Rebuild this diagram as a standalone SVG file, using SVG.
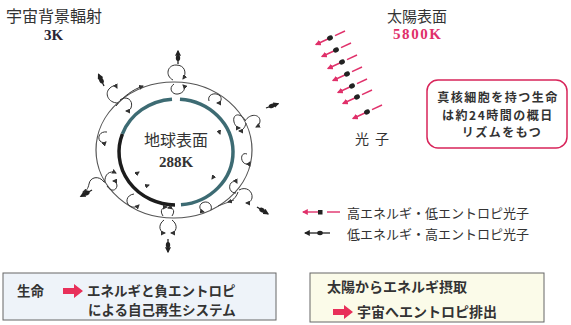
<svg xmlns="http://www.w3.org/2000/svg" width="571" height="325" viewBox="0 0 571 325">
  <style>
    .jp { font-family: "Noto Sans CJK JP", "Noto Sans CJK SC", sans-serif; fill: #333; }
    .jpb { font-family: "Noto Sans CJK JP", "Noto Sans CJK SC", sans-serif; font-weight: 700; fill: #333; }
    .num { font-family: "Liberation Serif", serif; font-weight: 700; }
    .curl { fill: none; stroke: #333; stroke-width: 1; marker-end: url(#ah); }
    .ring { fill: none; stroke: #555; stroke-width: 1.2; }
    .pk { stroke: #e0306a; stroke-width: 1.4; fill: none; }
    .bk { stroke: #222; stroke-width: 1.3; fill: none; }
  </style>
  <defs>
    <marker id="ah" viewBox="0 0 10 10" refX="8" refY="5" markerWidth="5" markerHeight="5" markerUnits="userSpaceOnUse" orient="auto">
      <path d="M0,0 L10,5 L0,10 Z" fill="#333"/>
    </marker>
    <marker id="ahp" viewBox="0 0 10 10" refX="8" refY="5" markerWidth="6" markerHeight="6" markerUnits="userSpaceOnUse" orient="auto">
      <path d="M0,0 L10,5 L0,10 Z" fill="#e0306a"/>
    </marker>
    <marker id="ahb" viewBox="0 0 10 10" refX="8" refY="5" markerWidth="6" markerHeight="6" markerUnits="userSpaceOnUse" orient="auto">
      <path d="M0,0 L10,5 L0,10 Z" fill="#222"/>
    </marker>
    <!-- high-energy photon coming from the sun, drawn from its tail -->
    <g id="sunray">
      <line class="pk" x1="0" y1="0" x2="-10" y2="4.7"/>
      <line class="pk" x1="-15" y1="7" x2="-29" y2="13.5" marker-end="url(#ahp)"/>
      <ellipse cx="-15" cy="7" rx="3" ry="2.4" fill="#222" transform="rotate(-25 -15 7)"/>
    </g>
    <!-- low-energy photon leaving the earth, drawn pointing along +x -->
    <g id="outray">
      <line class="bk" x1="0" y1="0" x2="13" y2="0" marker-end="url(#ahb)"/>
      <ellipse cx="6" cy="0" rx="3" ry="2.2" fill="#222"/>
    </g>
    <path id="blockarrow" d="M0,4 H11 V0 L20,7 L11,14 V10 H0 Z" fill="#e8305a"/>
  </defs>

  <rect width="571" height="325" fill="#fff"/>

  <!-- titles -->
  <g id="cosmic-background">
    <text class="jp" x="6" y="22" font-size="16">宇宙背景輻射</text>
    <text class="num" x="44" y="39.5" font-size="15" fill="#2a2535">3K</text>
  </g>
  <g id="sun-surface">
    <text class="jp" x="387" y="22" font-size="15">太陽表面</text>
    <text class="num" x="393" y="39" font-size="15" fill="#e0306a" textLength="48">5800K</text>
  </g>

  <!-- earth -->
  <g id="earth">
    <ellipse class="ring" cx="174" cy="150" rx="78" ry="68"/>
    <path d="M179.98,99.13 A57,53 0 0 1 180.97,204.8" fill="none" stroke="#3d6b73" stroke-width="3.5"/>
    <path d="M175,204.99 A57,53 0 0 1 122.44,133.87" fill="none" stroke="#1c1c1c" stroke-width="3.5"/>
    <path d="M122.44,133.87 A57,53 0 0 1 172.02,99.13" fill="none" stroke="#3d6b73" stroke-width="3.5"/>
    <text class="jp" x="176" y="146" font-size="16" text-anchor="middle">地球表面</text>
    <text class="num" x="176" y="167" font-size="15" fill="#333" text-anchor="middle">288K</text>
  </g>

  <!-- circulation loops around the surface -->
  <g id="loops">
    <!-- top -->
    <path class="curl" d="M173,80 C165,76 167,65 176,65 C185,65 187,73 183,79"/>
    <path class="curl" d="M174,84 C168,88 172,95 178,94 C184,93 186,88 183,85"/>
    <!-- upper left -->
    <path class="curl" d="M118,103 C108,103 104,93 110,88 C113,85 116,86 117,88"/>
    <path class="curl" d="M120,100 C126,95 134,100 131,108 C130,110 128,111 126,111"/>
    <path class="curl" d="M116,106 C124,96 132,90 143,86"/>
    <!-- upper right -->
    <path class="curl" d="M209,101 C207,95 214,92 219,95 C223,98 221,103 217,103"/>
    <!-- right -->
    <path class="curl" d="M245,120 C240,112 232,114 234,122 C235,126 238,128 240,128"/>
    <path class="curl" d="M245,121 C250,113 260,114 260,121 C260,124 258,126 256,127"/>
    <path class="curl" d="M246,123 C245,128 242,131 239,131"/>
    <!-- right inner -->
    <path class="curl" d="M247,154 C242,152 240,158 243,162 C245,165 249,164 250,162"/>
    <!-- left inner -->
    <path class="curl" d="M107,132 C100,131 97,137 100,141 C102,143 105,143 106,142"/>
    <!-- lower left -->
    <path class="curl" d="M104,182 C99,175 90,177 89,184 C88,189 86,191 83,192"/>
    <path class="curl" d="M105,183 C104,174 110,170 116,173"/>
    <path class="curl" d="M107,186 C111,192 116,191 117,186 C117,183 115,181 113,181"/>
    <!-- bottom left inner -->
    <path class="curl" d="M134,194 C126,195 125,203 130,206 C133,208 137,207 139,205"/>
    <!-- bottom -->
    <path class="curl" d="M163,216 C159,210 163,207 167,207"/>
    <path class="curl" d="M172,216 C176,210 172,207 168,208"/>
    <path class="curl" d="M164,220 C157,225 160,233 165,233"/>
    <path class="curl" d="M172,220 C179,225 176,233 171,233"/>
    <!-- lower right -->
    <path class="curl" d="M236,193 C230,193 228,187 231,183 C233,181 236,181 237,183"/>
    <path class="curl" d="M239,190 C246,186 253,191 252,198 C251,202 248,203 246,203"/>
    <path class="curl" d="M238,192 C236,198 232,201 228,202"/>
    <path d="M218,206 L234,200" stroke="#333" stroke-width="0.8" fill="none"/>
    <!-- bottom right inner -->
    <path class="curl" d="M211,210 C213,204 207,200 202,203 C198,206 200,211 204,212"/>
    <!-- small marks on the surface -->
    <path class="curl" d="M136,174 l3,-2"/>
    <path class="curl" d="M146,186 l3,-1"/>
    <path class="curl" d="M214,176 l-2,3"/>
    <path class="curl" d="M219,131 l1,3"/>
  </g>

  <!-- low-energy photons radiated to space -->
  <g id="outgoing">
    <use href="#outray" transform="translate(104,86) rotate(-115)"/>
    <use href="#outray" transform="translate(266,108) rotate(-20)"/>
    <use href="#outray" transform="translate(257,207) rotate(32)"/>
    <use href="#outray" transform="translate(92,190) rotate(150)"/>
    <use href="#outray" transform="translate(168,239) rotate(90)"/>
    <use href="#outray" transform="translate(178,64) rotate(-90)"/>
  </g>

  <!-- sunlight -->
  <g id="sunlight">
    <use href="#sunray" transform="translate(345,31)"/>
    <use href="#sunray" transform="translate(351,43)"/>
    <use href="#sunray" transform="translate(357,55)"/>
    <use href="#sunray" transform="translate(362,67)"/>
    <use href="#sunray" transform="translate(367,79)"/>
    <use href="#sunray" transform="translate(372,90)"/>
    <use href="#sunray" transform="translate(382,105)"/>
    <text class="jp" x="355" y="144" font-size="14" letter-spacing="6">光子</text>
  </g>

  <!-- circadian note -->
  <g id="circadian">
    <rect x="427" y="80" width="140" height="68" rx="11" fill="#fff" stroke="#d8245a" stroke-width="1.5"/>
    <text class="jpb" font-size="12" letter-spacing="1.5" text-anchor="middle">
      <tspan x="500" y="102">真核細胞を持つ生命</tspan>
      <tspan x="500" y="119.5">は約24時間の概日</tspan>
      <tspan x="502" y="137">リズムをもつ</tspan>
    </text>
  </g>

  <!-- legend -->
  <g id="legend">
    <line class="pk" x1="318" y1="212" x2="303" y2="212" marker-end="url(#ahp)"/>
    <rect x="318" y="210" width="4.5" height="4.5" fill="#222"/>
    <line class="pk" x1="327" y1="212" x2="340" y2="212"/>
    <text class="jp" x="347" y="218" font-size="13">高エネルギ・低エントロピ光子</text>
    <line class="bk" x1="330" y1="233" x2="305" y2="233" marker-end="url(#ahb)"/>
    <ellipse cx="320" cy="233" rx="2.8" ry="2.2" fill="#222"/>
    <text class="jp" x="347" y="239" font-size="13">低エネルギ・高エントロピ光子</text>
  </g>

  <!-- summary boxes -->
  <g id="life-box">
    <rect x="3" y="273" width="273" height="47" fill="#eef3f9" stroke="#666" stroke-width="1"/>
    <text class="jpb" x="17" y="296" font-size="13.5">生命</text>
    <use href="#blockarrow" transform="translate(63,284)"/>
    <text class="jpb" font-size="13.5">
      <tspan x="87" y="296">エネルギと負エントロピ</tspan>
      <tspan x="88" y="315">による自己再生システム</tspan>
    </text>
  </g>
  <g id="sun-box">
    <rect x="310" y="273" width="234" height="49" fill="#fbfbe9" stroke="#666" stroke-width="1"/>
    <text class="jpb" x="327" y="292" font-size="14">太陽からエネルギ摂取</text>
    <use href="#blockarrow" transform="translate(333,305)"/>
    <text class="jpb" x="357" y="317" font-size="14">宇宙へエントロピ排出</text>
  </g>
</svg>
